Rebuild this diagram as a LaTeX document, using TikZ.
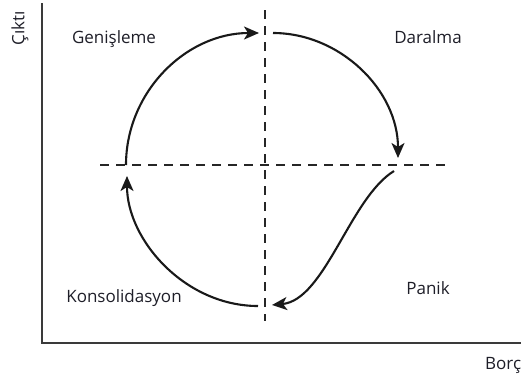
\documentclass[tikz,border=0pt]{standalone}
\usepackage{fontspec}
\setmainfont{Open Sans}
\usetikzlibrary{arrows.meta}
\definecolor{txt}{HTML}{1E1E28}
\definecolor{axis}{HTML}{3A3A3A}
\tikzset{
  lbl/.style={text=txt, font=\fontsize{17}{20}\selectfont, inner sep=0pt},
  axisline/.style={draw=axis, line width=2.4pt},
  dashline/.style={draw=black!85, line width=1.9pt, dash pattern=on 9pt off 7pt},
  cycle/.style={draw=black!90, line width=2.1pt, -{Stealth[length=15pt,width=13pt,inset=4pt]}},
}
\begin{document}
\begin{tikzpicture}[x=1pt,y=-1pt]
\useasboundingbox (0,0) rectangle (521,381);
% axes
\coordinate (otop) at (42,3);
\coordinate (orig) at (42,343);
\coordinate (xend) at (523,343);
\draw[axisline] (otop) -- (orig) -- (xend);
% dashed quadrant lines
\coordinate (vt) at (265,10);
\coordinate (vb) at (265,321);
\coordinate (hl) at (100,165);
\coordinate (hr) at (448,165);
\draw[dashline] (vt) -- (vb);
\draw[dashline] (hl) -- (hr);
% labels
\node[lbl] (cikti) at (20,28) {\rotatebox{90}{Çıktı}};
\node[lbl] (gen) at (114,39) {Genişleme};
\node[lbl] (dar) at (428,37) {Daralma};
\node[lbl] (kon) at (124,298) {Konsolidasyon};
\node[lbl] (pan) at (428,288) {Panik};
\node[lbl, anchor=west] (borc) at (485,365) {Borç};
% cycle arrows
\coordinate (a1s) at (126,165);
\coordinate (a1e) at (259,33);
\coordinate (a2s) at (273,33);
\coordinate (a2e) at (398,158);
\coordinate (a3s) at (394,171);
\coordinate (a3e) at (272,305);
\coordinate (a4s) at (258,306);
\coordinate (a4e) at (127,176);
\draw[cycle] (a1s) .. controls (126,92) and (186,33) .. (a1e);
\draw[cycle] (a2s) .. controls (340,33) and (398,90) .. (a2e);
\draw[cycle] (a3s) .. controls (350,198) and (325,300) .. (a3e);
\draw[cycle] (a4s) .. controls (185,306) and (127,240) .. (a4e);
\end{tikzpicture}
\end{document}
